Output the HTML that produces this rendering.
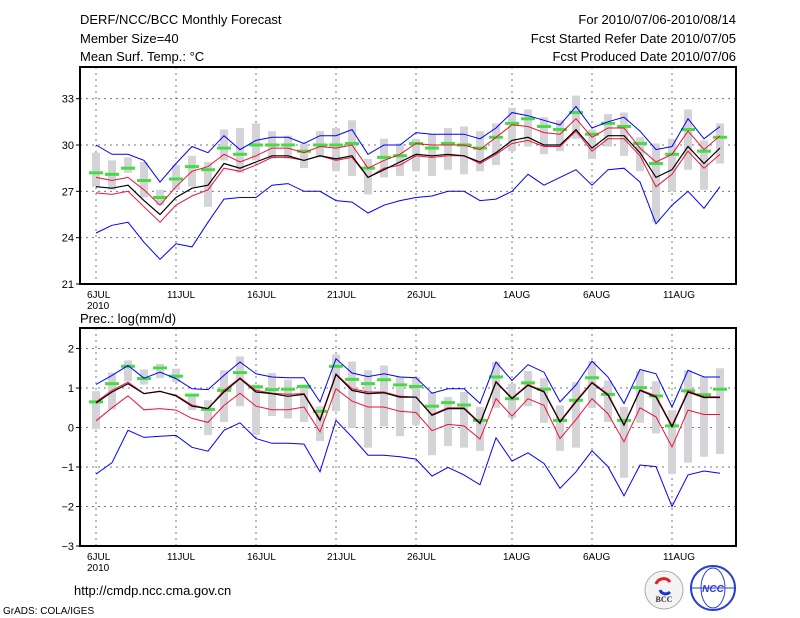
<!DOCTYPE html>
<html><head><meta charset="utf-8"><style>
body{margin:0;background:#fff;}
svg{display:block;font-family:"Liberation Sans",sans-serif;}
</style></head><body>
<svg id="chart" width="800" height="618" viewBox="0 0 800 618" xmlns="http://www.w3.org/2000/svg">
<rect width="800" height="618" fill="#fff"/>
<text x="80" y="24" font-size="13">DERF/NCC/BCC Monthly Forecast</text>
<text x="80" y="43" font-size="13">Member Size=40</text>
<text x="80" y="61" font-size="13">Mean Surf. Temp.: °C</text>
<text x="736" y="24" font-size="13" text-anchor="end">For 2010/07/06-2010/08/14</text>
<text x="736" y="43" font-size="13" text-anchor="end">Fcst Started Refer Date 2010/07/05</text>
<text x="736" y="61" font-size="13" text-anchor="end">Fcst Produced Date 2010/07/06</text>
<text x="80" y="323" font-size="13">Prec.: log(mm/d)</text>
<text x="74" y="595" font-size="13">http://cmdp.ncc.cma.gov.cn</text>
<text x="3" y="614" font-size="10">GrADS: COLA/IGES</text>
<g>
<circle cx="664" cy="590" r="19" fill="#f4f4f4" stroke="#aaa"/>
<path d="M656 584 a8 8 0 0 1 14 -2" stroke="#d22" stroke-width="3" fill="none"/>
<path d="M660 590 a6 6 0 0 0 10 2" stroke="#23c" stroke-width="3" fill="none"/>
<text x="664" y="602" font-size="8" text-anchor="middle" font-family="Liberation Serif,serif" font-weight="bold" fill="#333">BCC</text>
</g>
<g>
<circle cx="713" cy="588" r="22" fill="#fff" stroke="#2a3fd0" stroke-width="2"/>
<ellipse cx="713" cy="588" rx="12" ry="20" fill="none" stroke="#2a3fd0"/>
<line x1="692" y1="588" x2="734" y2="588" stroke="#2a3fd0"/>
<text x="713" y="592" font-size="10" text-anchor="middle" font-style="italic" font-weight="bold" fill="#2a3fd0">NCC</text>
</g>
</svg>
<script>
// ---- top panel (temperature) data ----
const days = 40;
const xTickLabels = ["6JUL","11JUL","16JUL","21JUL","26JUL","1AUG","6AUG","11AUG"];
const xTickDays = [0,5,10,15,20,26,31,36];
const tTicks = [21,24,27,30,33];
const tBlueMax = [30.0,29.4,29.4,29.0,27.6,28.8,29.9,29.5,30.6,29.7,30.3,30.5,30.5,30.1,30.6,30.6,31.0,29.4,30.0,30.0,30.8,30.7,30.7,30.7,30.4,31.1,32.1,31.9,31.6,31.3,32.5,31.1,31.5,31.8,30.9,29.7,29.9,31.7,30.4,31.2];
const tRedUp = [27.9,27.7,27.9,27.1,26.1,27.3,28.3,28.6,29.4,28.9,29.3,29.8,29.8,29.5,29.9,29.8,30.0,28.5,29.0,29.4,30.1,30.0,30.0,30.0,29.7,30.5,31.3,31.2,30.8,30.7,31.7,30.5,31.1,31.1,29.8,28.9,29.4,30.9,29.7,30.6];
const tMean = [27.3,27.2,27.4,26.4,25.5,26.6,27.2,27.4,28.8,28.5,28.9,29.3,29.3,29.0,29.3,29.1,29.3,27.9,28.4,28.9,29.4,29.3,29.4,29.3,28.9,29.5,30.3,30.5,30.0,30.0,31.0,29.8,30.6,30.6,29.5,27.9,28.4,29.9,28.8,29.8];
const tRedLo = [26.9,26.8,27.0,26.0,25.0,26.1,26.7,27.1,28.5,28.3,28.7,29.2,29.2,29.0,29.3,29.0,29.2,27.9,28.5,28.7,29.3,29.2,29.3,29.3,28.8,29.4,30.1,30.3,29.9,29.9,30.9,29.6,30.4,30.4,29.3,27.3,28.1,29.6,28.5,29.4];
const tBlueMin = [24.3,24.8,25.0,23.7,22.6,23.6,23.4,25.0,26.5,26.6,26.6,27.4,27.5,27.0,27.0,26.4,26.3,25.6,26.1,26.4,26.6,26.7,27.0,27.0,26.4,26.5,27.0,28.1,27.4,27.9,28.4,27.4,28.4,28.5,27.6,24.9,26.1,27.0,25.9,27.3];
const tGreen = [28.2,28.1,28.5,27.7,26.6,27.8,28.6,28.4,29.8,29.4,30.0,30.0,30.0,29.6,30.0,30.0,30.1,28.5,29.2,29.3,30.1,29.8,30.1,30.0,29.8,30.5,31.4,31.7,31.2,31.0,32.1,30.7,31.4,31.2,30.1,28.8,29.4,31.0,29.6,30.5];
const tBoxHi = [29.5,29.0,29.2,28.9,27.1,28.7,29.3,28.9,31.0,31.1,31.4,30.9,30.6,30.1,30.9,31.1,31.6,29.1,30.4,30.1,30.4,30.7,31.1,31.2,30.9,31.4,32.4,32.3,31.8,31.6,33.2,31.0,32.0,32.1,30.5,30.1,30.4,32.3,30.3,31.4];
const tBoxLo = [27.3,27.1,28.2,26.6,26.1,27.1,27.3,26.0,29.0,28.2,29.0,29.1,29.1,28.5,29.2,28.3,28.0,26.8,27.9,28.0,28.3,28.0,28.4,28.1,28.3,28.7,29.6,29.9,29.4,29.6,30.4,29.1,29.9,29.3,28.3,25.0,27.0,28.4,27.1,28.8];
// ---- bottom panel (precipitation) data ----
const pTicks = [-3,-2,-1,0,1,2];
const pBlueMax = [1.09,1.32,1.57,1.25,1.40,1.24,0.98,0.96,1.32,1.66,1.36,1.28,1.26,1.26,0.65,1.74,1.38,1.29,1.36,1.28,1.26,0.87,0.98,0.98,0.61,1.66,1.19,1.59,1.40,0.65,1.08,1.68,1.28,0.61,1.47,1.36,0.52,1.45,1.28,1.28];
const pRedUp = [0.65,0.94,1.15,0.86,0.91,0.82,0.57,0.48,0.94,1.26,0.94,0.87,0.84,0.86,0.22,1.36,0.98,0.90,0.90,0.79,0.77,0.33,0.50,0.50,0.12,1.17,0.75,1.09,0.92,0.16,0.68,1.15,0.85,0.08,0.96,0.80,0.05,0.93,0.78,0.78];
const pMean = [0.62,0.90,1.11,0.86,0.92,0.80,0.54,0.48,0.90,1.24,0.90,0.86,0.79,0.84,0.18,1.34,0.94,0.86,0.88,0.77,0.77,0.31,0.48,0.48,0.10,1.15,0.73,1.07,0.90,0.14,0.65,1.13,0.82,0.06,0.94,0.77,0.02,0.90,0.76,0.76];
const pRedLo = [0.17,0.50,0.80,0.45,0.48,0.44,0.23,0.13,0.56,0.87,0.54,0.45,0.45,0.52,-0.11,0.98,0.67,0.52,0.52,0.41,0.38,-0.08,0.08,0.04,-0.29,0.73,0.29,0.73,0.56,-0.28,0.20,0.73,0.35,-0.36,0.50,0.27,-0.49,0.44,0.33,0.33];
const pBlueMin = [-1.18,-0.89,-0.07,-0.25,-0.22,-0.20,-0.50,-0.60,-0.07,0.12,-0.28,-0.40,-0.40,-0.42,-1.12,0.18,-0.24,-0.70,-0.70,-0.74,-0.80,-1.23,-1.01,-1.20,-1.45,-0.26,-0.85,-0.64,-0.91,-1.54,-1.12,-0.59,-0.99,-1.73,-0.95,-0.99,-2.00,-1.20,-1.10,-1.16];
const pGreen = [0.65,1.11,1.55,1.24,1.51,1.30,0.82,0.46,0.94,1.39,1.03,0.96,0.97,1.04,0.41,1.55,1.22,1.11,1.21,1.08,1.04,0.54,0.63,0.57,0.18,1.28,0.73,1.13,0.97,0.18,0.69,1.26,0.84,0.18,1.01,0.80,0.04,0.93,0.83,0.97];
const pBoxHi = [0.92,1.39,1.70,1.47,1.61,1.49,0.86,0.69,1.45,1.80,1.09,1.38,1.21,1.09,0.54,1.85,1.67,1.45,1.57,1.29,1.28,0.90,0.77,0.90,0.52,1.66,1.11,1.43,1.25,0.56,1.15,1.68,1.19,0.52,1.43,1.17,0.44,1.45,1.28,1.50];
const pBoxLo = [-0.04,0.46,1.17,1.09,1.25,1.15,0.44,-0.19,0.14,0.54,-0.19,0.29,0.23,0.14,-0.34,0.41,-0.01,-0.51,0.03,-0.22,0.06,-0.70,-0.47,-0.51,-0.59,0.50,0.24,0.54,0.12,-0.59,-0.51,0.50,0.14,-1.27,0.12,-0.15,-1.18,-0.89,-0.74,-0.67];

const NS = "http://www.w3.org/2000/svg";
const svg = document.getElementById("chart");
function mk(tag, attrs, parent){
  const e = document.createElementNS(NS, tag);
  for (const k in attrs) e.setAttribute(k, attrs[k]);
  (parent || svg).appendChild(e);
  return e;
}
const X0 = 80, X1 = 736;
function xDay(i){ return 96 + 16 * i; }

function panel(name, top, bottom, vmin, vmax, ticks, series){
  const yv = v => bottom - (v - vmin) / (vmax - vmin) * (bottom - top);
  const g = mk("g", {});
  
  
  ticks.forEach(t => {
    if (t === vmin) return;
    const l = mk("line", {x1: X0, x2: X1, y1: yv(t), y2: yv(t), stroke: "#777", "stroke-dasharray": "2,4"}, g);
    
    
  });
  xTickDays.forEach(d => {
    const l = mk("line", {x1: xDay(d), x2: xDay(d), y1: top, y2: bottom, stroke: "#777", "stroke-dasharray": "2,4"}, g);
    
    
  });
  for (let i = 0; i < days; i++){
    const hi = yv(series.hi[i]), lo = yv(series.lo[i]);
    const r = mk("rect", {x: xDay(i) - 4, y: hi, width: 8, height: lo - hi, fill: "#d3d3d8"}, g);
    
    
  }
  for (let i = 0; i < days; i++){
    const r = mk("rect", {x: xDay(i) - 7, y: yv(series.green[i]) - 1.5, width: 14, height: 3, fill: "#44dd44"}, g);
    
    
  }
  const lines = [
    [series.bmin, "#0000ff", "ensemble-min-line"],
    [series.rlo, "#ee1133", "lower-bound-line"],
    [series.rup, "#ee1133", "upper-bound-line"],
    [series.mean, "#000000", "ensemble-mean-line"],
    [series.bmax, "#0000ff", "ensemble-max-line"]
  ];
  lines.forEach(([arr, col, nm]) => {
    const pts = arr.map((v, i) => xDay(i) + "," + yv(v).toFixed(1)).join(" ");
    const p = mk("polyline", {points: pts, fill: "none", stroke: col, "stroke-width": nm === "ensemble-mean-line" ? 1.2 : 1}, g);
    
    
  });
  const f = mk("rect", {x: X0, y: top, width: X1 - X0, height: bottom - top, fill: "none", stroke: "#000", "stroke-width": 2}, g);
  
  
  ticks.forEach(t => {
    const y = yv(t);
    const tk = mk("line", {x1: X0 - 4, x2: X0, y1: y, y2: y, stroke: "#000", "stroke-width": 1}, g);
    
    
    const tx = mk("text", {x: X0 - 6, y: y + 4, "font-size": 11, "text-anchor": "end"}, g);
    tx.textContent = (t < 0 ? "\u2212" : "") + Math.abs(t);
    
    
  });
  xTickDays.forEach((d, k) => {
    const tx = mk("text", {x: xDay(d) - 9, y: bottom + 14, "font-size": 10}, g);
    tx.textContent = xTickLabels[k];
    
    
  });
  const yr = mk("text", {x: xDay(0) - 9, y: bottom + 25, "font-size": 10}, g);
  yr.textContent = "2010";
  
  
}

panel("temperature-panel", 67, 284, 21, 35.05, tTicks,
  {hi: tBoxHi, lo: tBoxLo, green: tGreen, bmax: tBlueMax, rup: tRedUp, mean: tMean, rlo: tRedLo, bmin: tBlueMin});
panel("precipitation-panel", 328, 546, -3, 2.52, pTicks,
  {hi: pBoxHi, lo: pBoxLo, green: pGreen, bmax: pBlueMax, rup: pRedUp, mean: pMean, rlo: pRedLo, bmin: pBlueMin});
</script>
</body></html>
